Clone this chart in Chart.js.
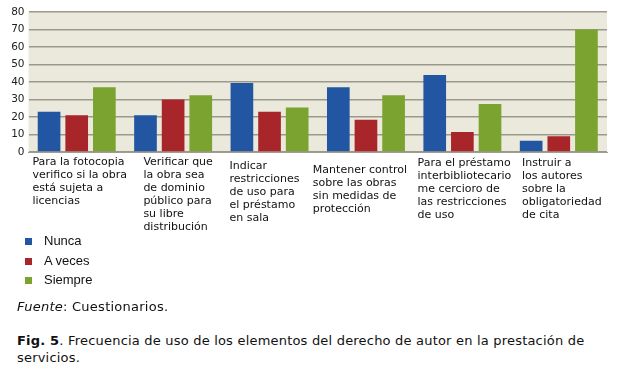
<!DOCTYPE html>
<html>
<head>
<meta charset="utf-8">
<script src="https://cdn.jsdelivr.net/npm/chart.js@4"></script>
<style>
  body { margin: 0; background: #fff; width: 619px; height: 367px; position: relative; overflow: hidden; }
  #wrap { position: absolute; left: 0; top: 0; width: 619px; height: 234px; }
  #legend { position: absolute; left: 0; top: 231px; font-family: "Liberation Sans", Arial, sans-serif; font-size: 13px; color: #111; }
  .item { position: absolute; left: 0; height: 19px; line-height: 19px; white-space: nowrap; }
  .item i { position: absolute; left: 25px; top: 7px; width: 7px; height: 7px; }
  .item span { position: absolute; left: 44px; }
  #fuente { position: absolute; left: 17px; top: 299px; font-family: "DejaVu Sans", Verdana, sans-serif; font-size: 13px; letter-spacing: 0.25px; line-height: 16px; color: #111; }
  #caption { position: absolute; left: 17px; top: 332px; width: 595px; font-family: "DejaVu Sans", Verdana, sans-serif; font-size: 13px; letter-spacing: 0.2px; line-height: 17px; color: #111; }
</style>
</head>
<body>
<div id="wrap"><canvas id="chart"></canvas></div>
<div id="legend"></div>
<div id="fuente"><i>Fuente</i>: Cuestionarios.</div>
<div id="caption"><b>Fig. 5</b>. Frecuencia de uso de los elementos del derecho de autor en la prestación de servicios.</div>
<script>
// DATOS
const categorias = [
    ["Para la fotocopia", "verifico si la obra", "está sujeta a", "licencias"],
    ["Verificar que", "la obra sea", "de dominio", "público para", "su libre", "distribución"],
    ["Indicar", "restricciones", "de uso para", "el préstamo", "en sala"],
    ["Mantener control", "sobre las obras", "sin medidas de", "protección"],
    ["Para el préstamo", "interbibliotecario", "me cercioro de", "las restricciones", "de uso"],
    ["Instruir a", "los autores", "sobre la", "obligatoriedad", "de cita"]
];
const series = ["Nunca", "A veces", "Siempre"];
const nunca = [23, 21, 39.5, 37, 44, 6.5];
const aVeces = [21, 30, 23, 18.5, 11.5, 9];
const siempre = [37, 32.5, 25.5, 32.5, 27.5, 70];
const yTicks = [0, 10, 20, 30, 40, 50, 60, 70, 80];

// ESTILO
const colores = ["#2256a2", "#a82529", "#7aa32f"];
const labelNudge = [[3, 0], [5, 0], [-5, 4], [-6, 8], [2, 1], [3, 1]];

// FONDO DEL ÁREA
const fondo = {
    id: "fondo",
    beforeDraw(chart) {
        const a = chart.chartArea;
        const c = chart.ctx;
        c.save();
        c.fillStyle = "#ebe9dc";
        c.fillRect(a.left, a.top, a.right - a.left, a.bottom - a.top);
        c.restore();
    }
};

// ETIQUETAS DEL EJE X (texto alineado a la izquierda)
const etiquetas = {
    id: "etiquetas",
    afterDraw(chart) {
        const x = chart.scales.x;
        const c = chart.ctx;
        c.save();
        c.font = "11px 'DejaVu Sans', Verdana, sans-serif";
        c.fillStyle = "#111";
        c.textAlign = "left";
        c.textBaseline = "middle";
        categorias.forEach((lines, i) => {
            const w = Math.max(...lines.map(l => c.measureText(l).width));
            const cx = x.getPixelForValue(i);
            const left = cx - w / 2 + labelNudge[i][0];
            const top = chart.chartArea.bottom + 10 + labelNudge[i][1];
            lines.forEach((l, j) => c.fillText(l, left, top + j * 13));
        });
        c.restore();
    }
};

const chart = new Chart(document.getElementById("chart"), {
    type: "bar",
    data: {
        labels: categorias.map(l => l.join(" ")),
        datasets: [nunca, aVeces, siempre].map((d, i) => ({
            label: series[i],
            data: d,
            backgroundColor: colores[i],
            borderWidth: 0,
            categoryPercentage: 0.86,
            barPercentage: 0.82
        }))
    },
    options: {
        responsive: true,
        maintainAspectRatio: false,
        animation: false,
        layout: { padding: { top: 12, right: 12, bottom: 82, left: 0 } },
        plugins: { legend: { display: false }, tooltip: { enabled: false } },
        scales: {
            x: {
                afterFit(s) { s.height = 0; },
                grid: { display: false },
                border: { display: true, color: "#a09c90", width: 1 },
                ticks: { display: false }
            },
            y: {
                min: 0,
                max: 80,
                afterFit(s) { s.width = 28.5; },
                afterBuildTicks(s) { s.ticks = yTicks.map(v => ({ value: v })); },
                grid: { color: "#9c988c", lineWidth: 1.6, drawTicks: false },
                border: { display: false },
                ticks: {
                    padding: 4,
                    color: "#222",
                    font: { family: "'DejaVu Sans', Verdana, sans-serif", size: 10.5 }
                }
            }
        }
    },
    plugins: [fondo, etiquetas]
});

// LEYENDA
const legend = document.getElementById("legend");
series.forEach((s, i) => {
    const div = document.createElement("div");
    div.className = "item";
    div.style.top = (i * 19.5) + "px";
    div.innerHTML = `<i style="background:${colores[i]}"></i><span>${s}</span>`;
    legend.appendChild(div);
});
</script>
</body>
</html>
